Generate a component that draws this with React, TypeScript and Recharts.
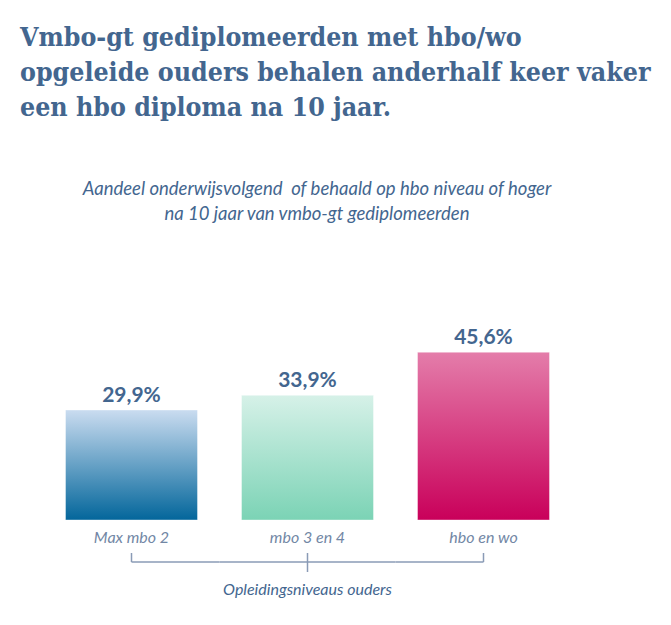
import { BarChart, Bar, XAxis, YAxis, Cell, LabelList } from 'recharts'

const categories = ['Max mbo 2', 'mbo 3 en 4', 'hbo en wo']
const shares = [29.9, 33.9, 45.6]
const axisTitle = 'Opleidingsniveaus ouders'

// gradient stops per bar: [top, bottom]
const GRADIENTS = [
  ['#cadcf0', '#03669b'],
  ['#d6f1e8', '#7bd3b5'],
  ['#e47daa', '#c9005a'],
]

const data = categories.map((name, i) => ({ name, value: shares[i] }))

const TEXT = '#43668f'
const LIGHT = '#7287a5'
const BRACKET = '#8a9bb6'

const fmt = (v: number) => `${v.toFixed(1).replace('.', ',')}%`

// tick label plus its piece of the bracket underneath
function BracketTick(props: any) {
  const { x, y, payload, index, visibleTicksCount, width } = props
  const half = width / visibleTicksCount / 2
  const last = visibleTicksCount - 1
  const lineY = y + 42
  const x1 = index === 0 ? x : x - half
  const x2 = index === last ? x : x + half
  const tickTop = lineY - 9
  const tickBottom = index !== 0 && index !== last ? lineY + 10 : lineY
  return (
    <g>
      <text
        x={x}
        y={y + 23}
        textAnchor="middle"
        fill={LIGHT}
        style={{ fontFamily: 'Lato, sans-serif', fontStyle: 'italic', fontSize: 16 }}
      >
        {payload.value}
      </text>
      <line x1={x1} x2={x2} y1={lineY} y2={lineY} stroke={BRACKET} strokeWidth={1.5} />
      <line x1={x} x2={x} y1={tickTop} y2={tickBottom} stroke={BRACKET} strokeWidth={1.5} />
    </g>
  )
}

export default function App() {
  return (
    <div style={{ position: 'absolute', left: 0, top: 0, width: 671, height: 625, background: '#fff' }}>
      <div
        style={{
          position: 'absolute',
          left: 20,
          top: 19,
          fontFamily: '"DejaVu Serif Condensed", "DejaVu Serif", serif',
          fontStretch: 'condensed',
          fontWeight: 700,
          fontSize: 26.5,
          lineHeight: '35px',
          color: TEXT,
          whiteSpace: 'nowrap',
        }}
      >
        Vmbo-gt gediplomeerden met hbo/wo
        <br />
        opgeleide ouders behalen anderhalf keer vaker
        <br />
        een hbo diploma na 10 jaar.
      </div>
      <div
        style={{
          position: 'absolute',
          left: 17,
          width: 600,
          top: 176,
          textAlign: 'center',
          fontFamily: 'Lato, sans-serif',
          fontStyle: 'italic',
          fontSize: 18.5,
          lineHeight: '25px',
          color: TEXT,
          whiteSpace: 'pre',
        }}
      >
        {'Aandeel onderwijsvolgend  of behaald op hbo niveau of hoger'}
        <br />
        na 10 jaar van vmbo-gt gediplomeerden
      </div>
      <div style={{ position: 'absolute', left: 0, top: 0 }}>
        <BarChart
          width={671}
          height={625}
          data={data}
          margin={{ top: 336, right: 99.5, bottom: 75, left: 43.5 }}
          barCategoryGap={22}
        >
          <defs>
            {GRADIENTS.map(([top, bottom], i) => (
              <linearGradient key={i} id={`grad-${i}`} x1="0" y1="0" x2="0" y2="1">
                <stop offset="0%" stopColor={top} />
                <stop offset="100%" stopColor={bottom} />
              </linearGradient>
            ))}
          </defs>
          <YAxis hide domain={[0, 50]} />
          <XAxis
            dataKey="name"
            axisLine={false}
            tickLine={false}
            tickSize={0}
            tickMargin={0}
            height={30}
            interval={0}
            tick={<BracketTick />}
            label={{
              content: (p: any) => {
                const vb = p.viewBox
                return (
                  <text
                    x={vb.x + vb.width / 2}
                    y={vb.y + vb.height + 45}
                    textAnchor="middle"
                    fill={TEXT}
                    style={{ fontFamily: 'Lato, sans-serif', fontStyle: 'italic', fontSize: 16 }}
                  >
                    {axisTitle}
                  </text>
                )
              },
            }}
          />
          <Bar dataKey="value" isAnimationActive={false} stroke="rgba(255,255,255,0.4)" strokeWidth={1}>
            {data.map((_d, i) => (
              <Cell key={`cell-${i}`} fill={`url(#grad-${i})`} />
            ))}
            <LabelList
              dataKey="value"
              position="top"
              offset={8}
              formatter={(v: any) => fmt(Number(v))}
              fill={TEXT}
              style={{ fontFamily: 'Lato, sans-serif', fontWeight: 700, fontSize: 21 }}
            />
          </Bar>
        </BarChart>
      </div>
    </div>
  )
}
